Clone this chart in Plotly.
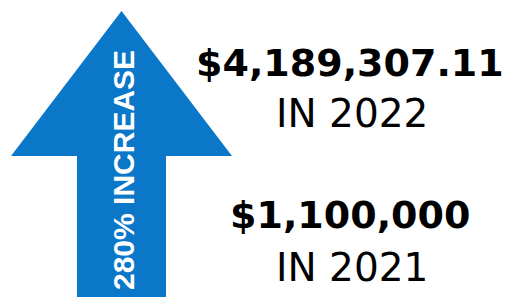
import plotly.graph_objects as go

# ---- data ----
years = [2021, 2022]
amounts = [1100000, 4189307.11]
amount_labels = ["$1,100,000", "$4,189,307.11"]

pct = int((amounts[1] - amounts[0]) / amounts[0] * 100)
arrow_label = f"{pct}% INCREASE"

W, H = 516, 297
BLUE = "#0a77c9"

fig = go.Figure()

# arrow shape (decoration) in pixel-like axis coordinates
arrow_path = ("M 121.5 11 L 232 156 L 166 156 L 166 300 L 77 300 "
              "L 77 156 L 11 156 Z")
fig.add_shape(type="path", path=arrow_path, xref="x", yref="y",
              fillcolor=BLUE, line=dict(width=0), layer="below")

fig.add_annotation(x=123, y=170, xref="x", yref="y", text=f"<b>{arrow_label}</b>",
                   textangle=-90, showarrow=False,
                   font=dict(family="Liberation Sans, Arial", size=30, color="white"))

# amounts and years (2022 on top, 2021 below)
rows = [(amount_labels[1], years[1], 63, 113), (amount_labels[0], years[0], 215, 267)]
for lab, yr, ya, yy in rows:
    fig.add_annotation(x=350, y=ya, xref="x", yref="y", text=f"<b>{lab}</b>",
                       showarrow=False,
                       font=dict(family="DejaVu Sans", size=38, color="black"))
    fig.add_annotation(x=352, y=yy, xref="x", yref="y", text=f"IN {yr}",
                       showarrow=False,
                       font=dict(family="DejaVu Sans", size=39, color="black"))

fig.update_xaxes(range=[0, W], visible=False, fixedrange=True)
fig.update_yaxes(range=[H, 0], visible=False, fixedrange=True)
fig.update_layout(width=W, height=H, margin=dict(l=0, r=0, t=0, b=0),
                  paper_bgcolor="white", plot_bgcolor="white", showlegend=False)

fig.write_html("out.html", config={"displayModeBar": False},
               post_script="document.body.style.margin='0';")
